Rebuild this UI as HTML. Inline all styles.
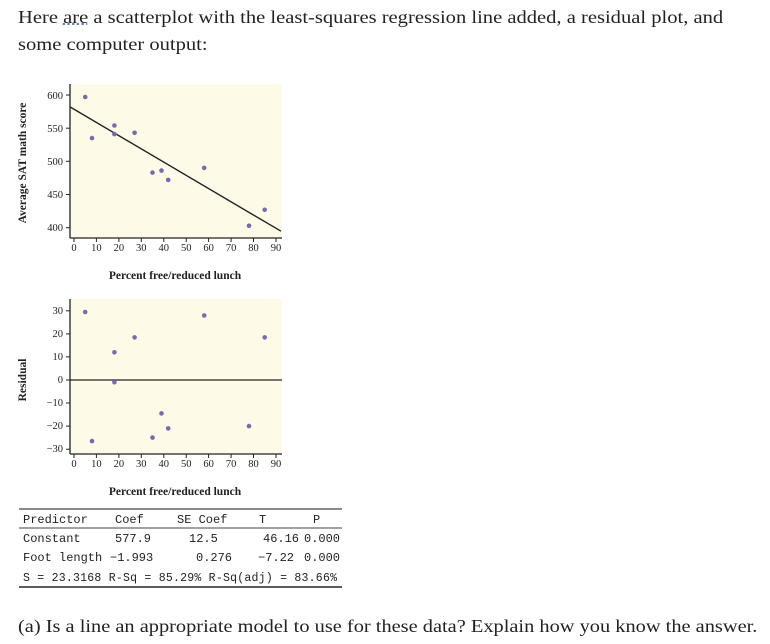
<!DOCTYPE html>
<html><head><meta charset="utf-8"><style>
body{margin:0;width:770px;height:644px;background:#fff;overflow:hidden;position:relative;font-family:"Liberation Serif",serif}
.t{position:absolute;left:18px;font-size:17.5px;color:#222;line-height:27px;transform-origin:0 0;white-space:nowrap}
u{text-decoration:underline dotted #4a6fb5}
</style></head><body>
<div class="t" style="top:4px;transform:scaleX(1.175)">Here <u>are</u> a scatterplot with the least-squares regression line added, a residual plot, and<br>some computer output:</div>
<div class="t" style="top:613px;transform:scaleX(1.165)">(a) Is a line an appropriate model to use for these data? Explain how you know the answer.</div>
<svg width="770" height="644" style="position:absolute;left:0;top:0" font-family="Liberation Serif,serif">
<g>
<rect x="70" y="84" width="212" height="154" fill="#fdfbe8"/>
<line x1="70" y1="84" x2="70" y2="238" stroke="#222" stroke-width="1.3"/>
<line x1="70" y1="238" x2="282" y2="238" stroke="#222" stroke-width="1.3"/>
<g stroke="#222" font-size="10.5" text-anchor="end" fill="#222">
<line x1="66" y1="227.7" x2="70" y2="227.7"/><text x="63" y="231" stroke="none">400</text>
<line x1="66" y1="194.5" x2="70" y2="194.5"/><text x="63" y="198" stroke="none">450</text>
<line x1="66" y1="161.3" x2="70" y2="161.3"/><text x="63" y="165" stroke="none">500</text>
<line x1="66" y1="128.2" x2="70" y2="128.2"/><text x="63" y="132" stroke="none">550</text>
<line x1="66" y1="95" x2="70" y2="95"/><text x="63" y="99" stroke="none">600</text>
</g>
<g stroke="#222" font-size="10.5" text-anchor="middle" fill="#222">
<line x1="74" y1="238" x2="74" y2="242"/><text x="74" y="251" stroke="none">0</text>
<line x1="96.4" y1="238" x2="96.4" y2="242"/><text x="96.4" y="251" stroke="none">10</text>
<line x1="118.9" y1="238" x2="118.9" y2="242"/><text x="118.9" y="251" stroke="none">20</text>
<line x1="141.3" y1="238" x2="141.3" y2="242"/><text x="141.3" y="251" stroke="none">30</text>
<line x1="163.8" y1="238" x2="163.8" y2="242"/><text x="163.8" y="251" stroke="none">40</text>
<line x1="186.2" y1="238" x2="186.2" y2="242"/><text x="186.2" y="251" stroke="none">50</text>
<line x1="208.6" y1="238" x2="208.6" y2="242"/><text x="208.6" y="251" stroke="none">60</text>
<line x1="231.1" y1="238" x2="231.1" y2="242"/><text x="231.1" y="251" stroke="none">70</text>
<line x1="253.5" y1="238" x2="253.5" y2="242"/><text x="253.5" y="251" stroke="none">80</text>
<line x1="276" y1="238" x2="276" y2="242"/><text x="276" y="251" stroke="none">90</text>
</g>
<text x="175" y="279" font-size="11.5" font-weight="bold" text-anchor="middle" fill="#222">Percent free/reduced lunch</text>
<text transform="translate(26,163) rotate(-90)" font-size="11.5" font-weight="bold" text-anchor="middle" fill="#222">Average SAT math score</text>
<line x1="70" y1="106.9" x2="281" y2="231.2" stroke="#222" stroke-width="1.4"/>
<g fill="#7a6aa8">
<circle cx="85.2" cy="97" r="2.3"/><circle cx="92" cy="138.1" r="2.3"/><circle cx="114.4" cy="125.5" r="2.3"/><circle cx="114.4" cy="134.1" r="2.3"/><circle cx="134.6" cy="132.8" r="2.3"/><circle cx="152.5" cy="172.6" r="2.3"/><circle cx="161.5" cy="170.6" r="2.3"/><circle cx="168.2" cy="179.9" r="2.3"/><circle cx="204.2" cy="167.9" r="2.3"/><circle cx="249" cy="225.7" r="2.3"/><circle cx="264.7" cy="209.8" r="2.3"/>
</g>
</g>
<g>
<rect x="70" y="299" width="212" height="155" fill="#fdfbe8"/>
<line x1="70" y1="299" x2="70" y2="454" stroke="#222" stroke-width="1.3"/>
<line x1="70" y1="454" x2="282" y2="454" stroke="#222" stroke-width="1.3"/>
<line x1="70" y1="380" x2="282" y2="380" stroke="#222" stroke-width="1.2"/>
<g stroke="#222" font-size="10.5" text-anchor="end" fill="#222">
<line x1="66" y1="310.8" x2="70" y2="310.8"/><text x="63" y="314" stroke="none">30</text>
<line x1="66" y1="333.9" x2="70" y2="333.9"/><text x="63" y="337" stroke="none">20</text>
<line x1="66" y1="356.9" x2="70" y2="356.9"/><text x="63" y="360" stroke="none">10</text>
<line x1="66" y1="380" x2="70" y2="380"/><text x="63" y="383" stroke="none">0</text>
<line x1="66" y1="403" x2="70" y2="403"/><text x="63" y="406" stroke="none">−10</text>
<line x1="66" y1="426.1" x2="70" y2="426.1"/><text x="63" y="429" stroke="none">−20</text>
<line x1="66" y1="449.2" x2="70" y2="449.2"/><text x="63" y="452" stroke="none">−30</text>
</g>
<g stroke="#222" font-size="10.5" text-anchor="middle" fill="#222">
<line x1="74" y1="454" x2="74" y2="458"/><text x="74" y="467" stroke="none">0</text>
<line x1="96.4" y1="454" x2="96.4" y2="458"/><text x="96.4" y="467" stroke="none">10</text>
<line x1="118.9" y1="454" x2="118.9" y2="458"/><text x="118.9" y="467" stroke="none">20</text>
<line x1="141.3" y1="454" x2="141.3" y2="458"/><text x="141.3" y="467" stroke="none">30</text>
<line x1="163.8" y1="454" x2="163.8" y2="458"/><text x="163.8" y="467" stroke="none">40</text>
<line x1="186.2" y1="454" x2="186.2" y2="458"/><text x="186.2" y="467" stroke="none">50</text>
<line x1="208.6" y1="454" x2="208.6" y2="458"/><text x="208.6" y="467" stroke="none">60</text>
<line x1="231.1" y1="454" x2="231.1" y2="458"/><text x="231.1" y="467" stroke="none">70</text>
<line x1="253.5" y1="454" x2="253.5" y2="458"/><text x="253.5" y="467" stroke="none">80</text>
<line x1="276" y1="454" x2="276" y2="458"/><text x="276" y="467" stroke="none">90</text>
</g>
<text x="175" y="495" font-size="11.5" font-weight="bold" text-anchor="middle" fill="#222">Percent free/reduced lunch</text>
<text transform="translate(26,380) rotate(-90)" font-size="11.5" font-weight="bold" text-anchor="middle" fill="#222">Residual</text>
<g fill="#7a6aa8">
<circle cx="85.2" cy="312" r="2.3"/><circle cx="92" cy="441.1" r="2.3"/><circle cx="114.4" cy="352.3" r="2.3"/><circle cx="114.4" cy="382.3" r="2.3"/><circle cx="134.6" cy="337.4" r="2.3"/><circle cx="152.5" cy="437.6" r="2.3"/><circle cx="161.5" cy="413.4" r="2.3"/><circle cx="168.2" cy="428.4" r="2.3"/><circle cx="204.2" cy="315.5" r="2.3"/><circle cx="249" cy="426.1" r="2.3"/><circle cx="264.7" cy="337.4" r="2.3"/>
</g>
</g>
<g font-family="Liberation Mono,monospace" font-size="12" fill="#222">
<line x1="19" y1="509" x2="342" y2="509" stroke="#444" stroke-width="1.3"/>
<text x="23" y="523">Predictor</text><text x="115" y="523">Coef</text><text x="177" y="523">SE Coef</text><text x="259" y="523">T</text><text x="313" y="523">P</text>
<line x1="19" y1="528" x2="342" y2="528" stroke="#444" stroke-width="1"/>
<text x="23" y="542">Constant</text><text x="115" y="542">577.9</text><text x="189" y="542">12.5</text><text x="263" y="542">46.16</text><text x="304" y="542">0.000</text>
<text x="23" y="561">Foot length</text><text x="110" y="561">−1.993</text><text x="196" y="561">0.276</text><text x="258" y="561">−7.22</text><text x="304" y="561">0.000</text>
<text x="23" y="581" font-size="11.5" textLength="314">S = 23.3168  R-Sq = 85.29%  R-Sq(adj) = 83.66%</text>
<line x1="19" y1="587" x2="342" y2="587" stroke="#444" stroke-width="1.8"/>
</g>
</svg>
</body></html>
